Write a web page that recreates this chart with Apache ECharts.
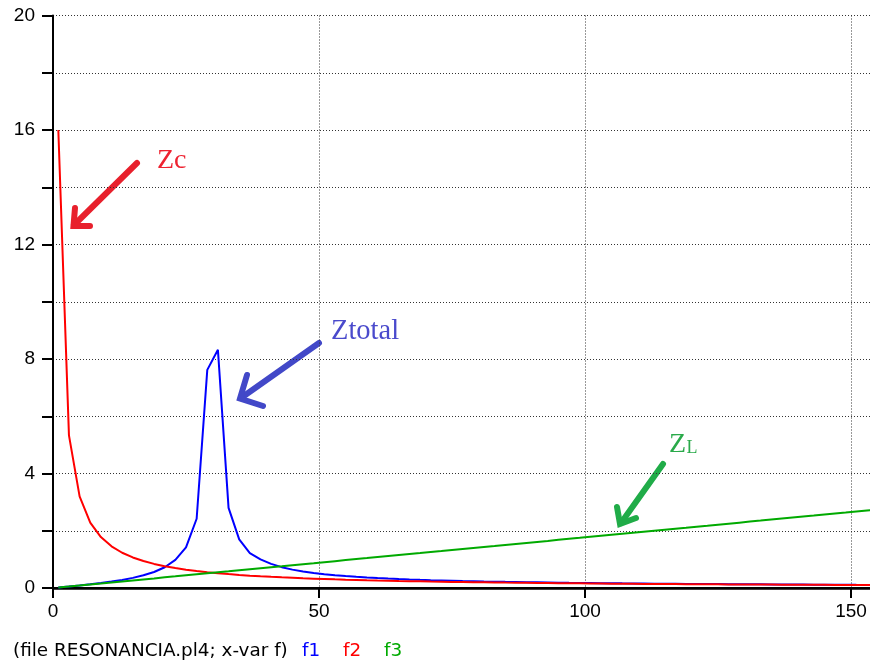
<!DOCTYPE html>
<html>
<head>
<meta charset="utf-8">
<script src="https://cdn.jsdelivr.net/npm/echarts@6/dist/echarts.min.js"></script>
<style>html,body{margin:0;padding:0;background:#fff;}#c{width:870px;height:666px;}</style>
</head>
<body>
<div id="c"></div>
<script>
// frequency samples (x-var f)
const freq = [1,3,5,7,9,11,13,15,17,19,21,23,25,27,29,31,33,35,37,39,41,43,45,47,49,51,53,55,57,59,61,63,65,67,69,71,73,75,77,79,81,83,85,87,89,91,93,95,97,99,101,103,105,107,109,111,113,115,117,119,121,123,125,127,129,131,133,135,137,139,141,143,145,147,149,151,153,155,157];
// f1 : Ztotal (blue)
const f1 = [0.018,0.054,0.091,0.131,0.175,0.225,0.283,0.354,0.443,0.56,0.726,0.98,1.42,2.42,7.62,8.32,2.8,1.7,1.22,1.0,0.843,0.728,0.642,0.576,0.524,0.481,0.445,0.415,0.389,0.366,0.346,0.329,0.313,0.299,0.286,0.274,0.264,0.254,0.245,0.237,0.229,0.222,0.215,0.209,0.203,0.197,0.192,0.187,0.182,0.178,0.174,0.17,0.166,0.162,0.159,0.156,0.152,0.149,0.146,0.144,0.141,0.138,0.136,0.133,0.131,0.129,0.127,0.125,0.123,0.121,0.119,0.117,0.115,0.114,0.112,0.11,0.109,0.107,0.106];
// f2 : Zc (red)
const f2 = [16,5.333,3.2,2.286,1.778,1.455,1.231,1.067,0.941,0.842,0.762,0.696,0.64,0.593,0.552,0.516,0.485,0.457,0.432,0.41,0.39,0.372,0.356,0.34,0.327,0.314,0.302,0.291,0.281,0.271,0.262,0.254,0.246,0.239,0.232,0.225,0.219,0.213,0.208,0.203,0.198,0.193,0.188,0.184,0.18,0.176,0.172,0.168,0.165,0.162,0.158,0.155,0.152,0.15,0.147,0.144,0.142,0.139,0.137,0.134,0.132,0.13,0.128,0.126,0.124,0.122,0.12,0.119,0.117,0.115,0.113,0.112,0.11,0.109,0.107,0.106,0.105,0.103,0.102];
// f3 : ZL (green)
const f3 = [0.018,0.053,0.089,0.124,0.159,0.195,0.23,0.266,0.301,0.336,0.372,0.407,0.443,0.478,0.513,0.549,0.584,0.62,0.655,0.69,0.726,0.761,0.797,0.832,0.867,0.903,0.938,0.974,1.009,1.044,1.08,1.115,1.151,1.186,1.221,1.257,1.292,1.328,1.363,1.398,1.434,1.469,1.505,1.54,1.575,1.611,1.646,1.682,1.717,1.752,1.788,1.823,1.859,1.894,1.929,1.965,2.0,2.036,2.071,2.106,2.142,2.177,2.213,2.248,2.283,2.319,2.354,2.39,2.425,2.46,2.496,2.531,2.567,2.602,2.637,2.673,2.708,2.744,2.779];
const xTicks = [0,50,100,150];
const yLabels = [0,4,8,12,16,20];

const chart = echarts.init(document.getElementById('c'), null, {renderer:'canvas'});
const FONT = 'Liberation Sans';
const gridLine = {show:true, lineStyle:{color:'#333', width:1, type:[1,2]}};
const option = {
  animation:false,
  backgroundColor:'#fff',
  grid:{left:53, top:15.5, width:851.2, height:572.5, containLabel:false, outerBoundsMode:'none'},
  xAxis:[{
    type:'value', min:0, max:160, interval:50,
    axisLine:{show:true, onZero:false, lineStyle:{color:'#000', width:2}},
    axisTick:{show:true, inside:false, length:10, lineStyle:{color:'#000', width:2}},
    axisLabel:{show:true, margin:14, fontFamily:FONT, fontSize:19, color:'#000', hideOverlap:false,
      formatter:v => xTicks.indexOf(v) >= 0 ? String(v) : ''},
    splitLine:gridLine
  },{
    type:'value', min:0, max:160, position:'top',
    axisLine:{show:true, lineStyle:{color:'#000', width:2.5}},
    axisTick:{show:false}, axisLabel:{show:false}, splitLine:{show:false}
  }],
  yAxis:{
    type:'value', min:0, max:20, interval:2,
    axisLine:{show:true, lineStyle:{color:'#000', width:2}},
    axisTick:{show:true, inside:false, length:11, lineStyle:{color:'#000', width:2}},
    axisLabel:{show:true, margin:18, fontFamily:FONT, fontSize:19, color:'#000',
      formatter:v => yLabels.indexOf(v) >= 0 ? String(v) : ''},
    splitLine:gridLine
  },
  series:[
    {name:'f1', type:'line', symbol:'none', data:freq.map((x,i)=>[x,f1[i]]), lineStyle:{color:'#0000ff', width:2}, clip:true},
    {name:'f2', type:'line', symbol:'none', data:freq.map((x,i)=>[x,f2[i]]), lineStyle:{color:'#ff0000', width:2}, clip:true},
    {name:'f3', type:'line', symbol:'none', data:freq.map((x,i)=>[x,f3[i]]), lineStyle:{color:'#00aa00', width:2}, clip:true}
  ],
  graphic:[
    // footer
    {type:'text', left:13, top:642, style:{text:'(file RESONANCIA.pl4; x-var f)', fontFamily:'DejaVu Sans', fontSize:18.4, fill:'#000'}},
    {type:'text', left:302, top:642, style:{text:'f1', fontFamily:'DejaVu Sans', fontSize:18.4, fill:'#0000ff'}},
    {type:'text', left:343, top:642, style:{text:'f2', fontFamily:'DejaVu Sans', fontSize:18.4, fill:'#ff0000'}},
    {type:'text', left:384, top:642, style:{text:'f3', fontFamily:'DejaVu Sans', fontSize:18.4, fill:'#00aa00'}},
    // Zc annotation
    {type:'text', style:{x:157, y:160.5, text:'Zc', fontFamily:'Liberation Serif', fontSize:28, fill:'#ee2230', verticalAlign:'middle'}},
    {type:'polyline', shape:{points:[[137,163],[74,225]]}, style:{stroke:'#e8202c', lineWidth:6, lineCap:'round', fill:null}},
    {type:'polyline', shape:{points:[[75,208],[73.5,226],[90,226]]}, style:{stroke:'#e8202c', lineWidth:6, lineCap:'round', lineJoin:'miter', fill:null}},
    // Ztotal annotation
    {type:'text', style:{x:331, y:332, text:'Ztotal', fontFamily:'Liberation Serif', fontSize:28.5, fill:'#4a4acc', verticalAlign:'middle'}},
    {type:'polyline', shape:{points:[[319,343],[241,398]]}, style:{stroke:'#4248c8', lineWidth:6, lineCap:'round', fill:null}},
    {type:'polyline', shape:{points:[[247,375],[240,398.5],[263,406]]}, style:{stroke:'#4248c8', lineWidth:6, lineCap:'round', lineJoin:'miter', fill:null}},
    // ZL annotation
    {type:'text', style:{x:669, y:445, text:'Z', fontFamily:'Liberation Serif', fontSize:28, fill:'#2aaa4a', verticalAlign:'middle'}},
    {type:'text', style:{x:686.5, y:448, text:'L', fontFamily:'Liberation Serif', fontSize:18, fill:'#2aaa4a', verticalAlign:'middle'}},
    {type:'polyline', shape:{points:[[663,464],[621,523]]}, style:{stroke:'#20ac48', lineWidth:6, lineCap:'round', fill:null}},
    {type:'polyline', shape:{points:[[617,507],[620,524],[636,518]]}, style:{stroke:'#20ac48', lineWidth:6, lineCap:'round', lineJoin:'miter', fill:null}}
  ]
};
chart.setOption(option);
</script>
</body>
</html>
